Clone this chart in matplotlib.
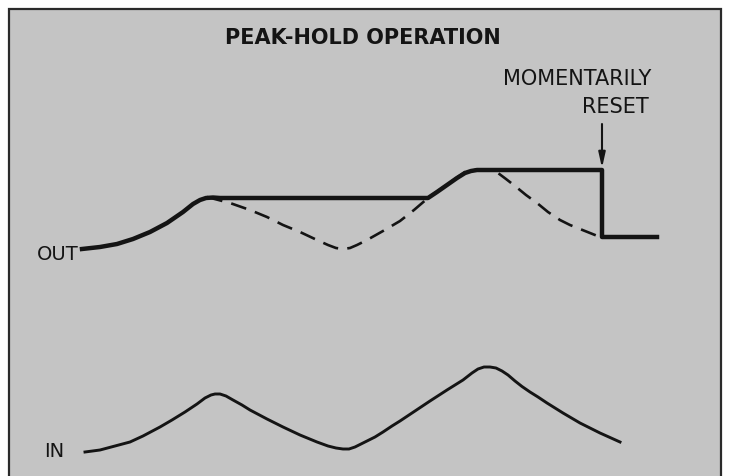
import matplotlib
matplotlib.use('Agg')
import matplotlib.pyplot as plt
from matplotlib.patches import Rectangle

# input waveform (time, level) - level axis points down
in_t = [85, 100, 115, 130, 143, 160, 172, 185, 197, 205, 211, 215, 220, 226, 233,
        242, 250, 267, 283, 300, 317, 328, 336, 343, 349, 355, 361, 367, 375, 383,
        392, 400, 415, 430, 447, 463, 472, 478, 484, 490, 496, 502, 508, 515, 522,
        530, 538, 547, 563, 580, 600, 620]
in_v = [452, 450, 446, 442, 436, 427, 420, 412, 404, 398, 395, 394, 394, 396, 400,
        405, 410, 419, 427, 435, 442, 446, 448, 449, 449, 447, 444, 441, 437, 432,
        426, 421, 411, 401, 390, 380, 373, 369, 367, 367, 368, 371, 375, 381, 386.5,
        392, 397, 403, 413, 423, 433, 442]

# peak-hold output
out_t = [82, 100, 117, 133, 150, 167, 183, 193, 200, 206, 213, 220, 428, 437, 447,
         457, 465, 471, 477, 490, 602, 602, 657]
out_v = [249, 247, 244, 239, 232, 223, 212, 204, 200, 198, 197.5, 198, 198, 192, 185,
         178, 173, 171, 170, 170, 170, 237, 237]

# output if it just tracked the input (dashed)
track_t = [207, 230, 250, 267, 283, 300, 317, 328, 336, 343, 350, 357, 367, 383, 400,
           414, 428, 445, 465, 475, 490, 498, 506, 515, 526, 537, 548, 560, 570, 580,
           590, 600]
track_v = [197, 203, 210, 217, 225, 232, 240, 245, 248, 249, 248, 245, 240, 231, 221,
           210, 198, 186, 172, 170, 170, 173, 179, 186, 195, 203, 212, 220, 225, 229,
           233, 237]

reset_t = 602
reset_from = 124
reset_to = 168

ink = '#141414'

fig = plt.figure(figsize=(7.32, 4.76), dpi=100)
ax = fig.add_axes([0, 0, 1, 1])
ax.set_xlim(0, 732)
ax.set_ylim(476, 0)
ax.axis('off')

# shaded panel with border
ax.add_patch(Rectangle((9, 9), 712, 490, facecolor='#c4c4c4', edgecolor='#2a2a2a', lw=1.6))

ax.plot(track_t, track_v, color=ink, lw=1.9, dashes=(6, 3.5), solid_capstyle='butt')
ax.plot(out_t, out_v, color=ink, lw=3.2, solid_joinstyle='round')
ax.plot(in_t, in_v, color=ink, lw=2.1, solid_joinstyle='round')

ax.annotate('', xy=(reset_t, reset_to), xytext=(reset_t, reset_from),
            arrowprops=dict(arrowstyle='-|>,head_length=0.9,head_width=0.2',
                            color=ink, lw=1.5, shrinkA=0, shrinkB=0))

ax.text(363, 44, 'PEAK-HOLD OPERATION', ha='center', va='baseline',
        fontsize=15, fontweight='bold', color=ink)
ax.text(651, 85, 'MOMENTARILY', ha='right', va='baseline', fontsize=15, color=ink)
ax.text(649, 113, 'RESET', ha='right', va='baseline', fontsize=15, color=ink)
ax.text(37, 260, 'OUT', ha='left', va='baseline', fontsize=14, color=ink)
ax.text(44, 457, 'IN', ha='left', va='baseline', fontsize=14, color=ink)

fig.savefig('out.png', dpi=100, facecolor='white')
